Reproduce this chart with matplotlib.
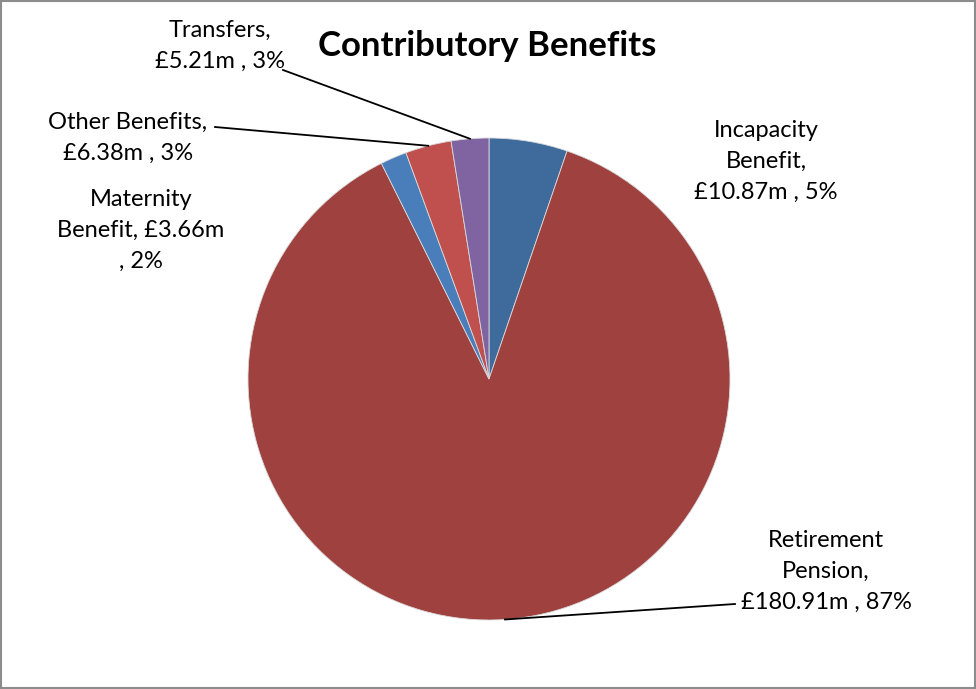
import numpy as np
import matplotlib.pyplot as plt
from matplotlib.patches import Rectangle

plt.rcParams['font.family'] = ['Lato', 'DejaVu Sans']

categories = ['Incapacity Benefit', 'Retirement Pension', 'Maternity Benefit', 'Other Benefits', 'Transfers']
values = [10.87, 180.91, 3.66, 6.38, 5.21]
pcts = ['5%', '87%', '2%', '3%', '3%']
colors = ['#3F6B9C', '#9E413F', '#4A7EBB', '#C0504D', '#8064A2']

# how each label wraps in the original
label_fmt = [
    'Incapacity\nBenefit,\n£{v:.2f}m , {p}',
    'Retirement\nPension,\n£{v:.2f}m , {p}',
    'Maternity\nBenefit, £{v:.2f}m\n, {p}',
    'Other Benefits,\n£{v:.2f}m , {p}',
    'Transfers,\n£{v:.2f}m , {p}',
]
# label centres (pixels, from top-left), and where leader lines start
label_pos = [(766, 161), (826, 571), (141, 230), (128, 138), (220, 46)]
leader_end = [None, (735, 604), None, (215, 127), (283, 70)]

W, H = 976, 689
cx, cy, r = 489, 379, 241

fig = plt.figure(figsize=(W / 100, H / 100), dpi=100)
ax = fig.add_axes([0, 0, 1, 1])
ax.axis('off')

wedges, _ = ax.pie(values, colors=colors, startangle=90, counterclock=False,
                   center=(cx, H - cy), radius=r,
                   wedgeprops=dict(edgecolor='#D9D9D9', linewidth=0.6))
ax.set_xlim(0, W)
ax.set_ylim(0, H)
ax.set_aspect('equal')

for i, w in enumerate(wedges):
    lx, ly = label_pos[i]
    txt = label_fmt[i].format(v=values[i], p=pcts[i])
    ax.text(lx, H - ly, txt, ha='center', va='center', fontsize=17,
            linespacing=1.58, color='black')
    if leader_end[i] is not None:
        mid = np.deg2rad((w.theta1 + w.theta2) / 2)
        ex, ey = w.center[0] + r * np.cos(mid), w.center[1] + r * np.sin(mid)
        sx, sy = leader_end[i]
        ax.plot([sx, ex], [H - sy, ey], color='black', lw=1.3)

ax.text(487, H - 46, 'Contributory Benefits', ha='center', va='center',
        fontsize=25, fontweight='bold')

ax.add_patch(Rectangle((1, 1), W - 2, H - 2, fill=False, edgecolor='#8C8C8C', lw=1.5))

fig.savefig('out.png', dpi=100)
